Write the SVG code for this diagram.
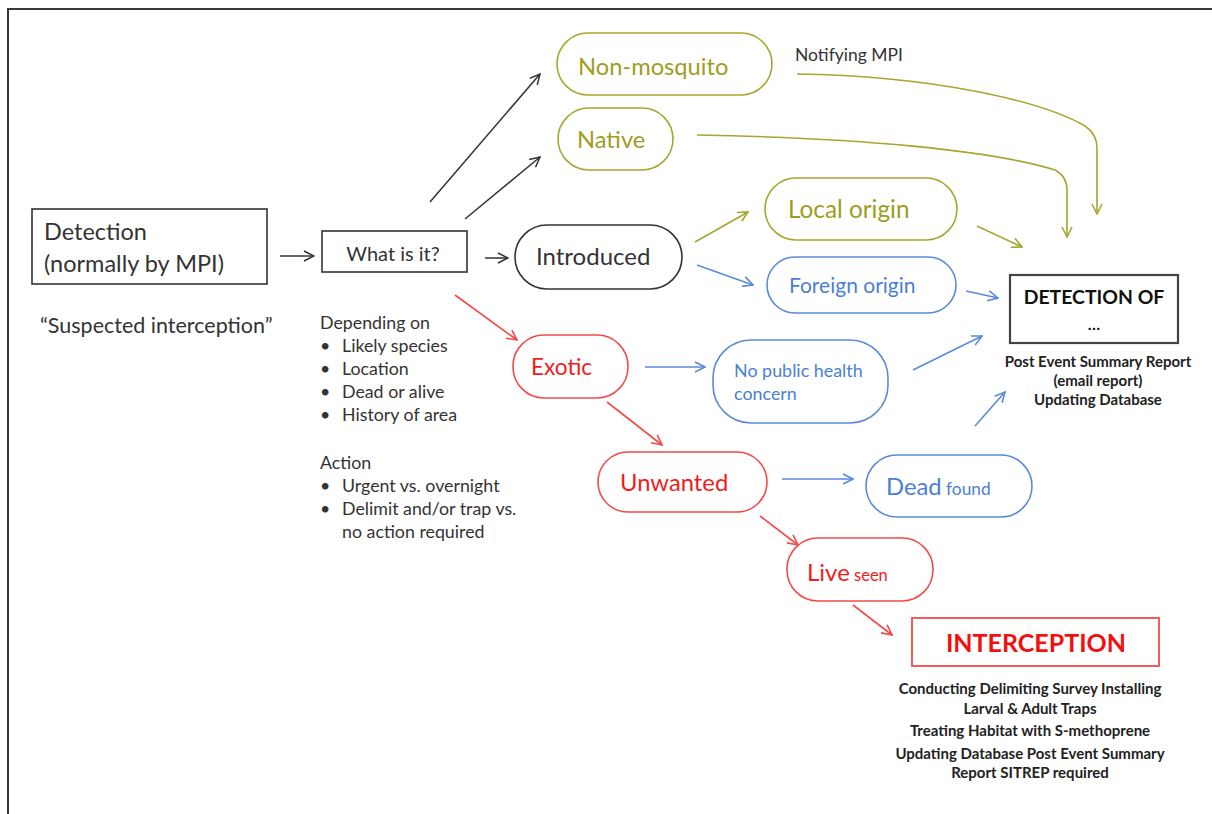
<svg xmlns="http://www.w3.org/2000/svg" width="1212" height="814" viewBox="0 0 1212 814">
  <style>
    text { font-family: Lato, "Open Sans", "Liberation Sans", sans-serif; }
    .olive { fill: #9d9d1f; }
    .blue { fill: #4a7fd4; }
    .red { fill: #f21c1c; }
    .dark { fill: #333333; }
    .b-olive { fill: #ffffff; stroke: #a6a630; stroke-width: 1.6; }
    .b-blue { fill: #ffffff; stroke: #5a8ad8; stroke-width: 1.6; }
    .b-red { fill: #ffffff; stroke: #f24a4a; stroke-width: 1.6; }
    .b-black { fill: #ffffff; stroke: #333333; stroke-width: 1.6; }
    .c-black { fill: none; stroke: #333333; stroke-width: 1.5; marker-end: url(#ah-black); }
    .c-olive { fill: none; stroke: #a6a630; stroke-width: 1.6; marker-end: url(#ah-olive); }
    .c-blue { fill: none; stroke: #5a8ad8; stroke-width: 1.6; marker-end: url(#ah-blue); }
    .c-red { fill: none; stroke: #f24a4a; stroke-width: 1.6; marker-end: url(#ah-red); }
    .note { font-size: 15px; font-weight: bold; fill: #222222; text-anchor: middle; }
    .list { font-size: 17.8px; fill: #333333; }
  </style>
  <defs>
    <marker id="ah-black" viewBox="0 0 12 12" refX="11" refY="6" markerWidth="12" markerHeight="12" markerUnits="userSpaceOnUse" orient="auto">
      <path d="M1,1 L11,6 L1,11" fill="none" stroke="#333333" stroke-width="1.5"/>
    </marker>
    <marker id="ah-olive" viewBox="0 0 12 12" refX="11" refY="6" markerWidth="12" markerHeight="12" markerUnits="userSpaceOnUse" orient="auto">
      <path d="M1,1 L11,6 L1,11" fill="none" stroke="#a6a630" stroke-width="1.6"/>
    </marker>
    <marker id="ah-blue" viewBox="0 0 12 12" refX="11" refY="6" markerWidth="12" markerHeight="12" markerUnits="userSpaceOnUse" orient="auto">
      <path d="M1,1 L11,6 L1,11" fill="none" stroke="#5a8ad8" stroke-width="1.6"/>
    </marker>
    <marker id="ah-red" viewBox="0 0 12 12" refX="11" refY="6" markerWidth="12" markerHeight="12" markerUnits="userSpaceOnUse" orient="auto">
      <path d="M1,1 L11,6 L1,11" fill="none" stroke="#f24a4a" stroke-width="1.6"/>
    </marker>
  </defs>

  <rect width="1212" height="814" fill="#ffffff"/>
  <!-- page frame (top and left edges) -->
  <path d="M8,814 L8,9 L1212,9" fill="none" stroke="#3a3a3a" stroke-width="2"/>

  <!-- connectors -->
  <g id="connectors">
    <path class="c-black" d="M280,256 L314,256"/>
    <path class="c-black" d="M430,202 L540,74"/>
    <path class="c-black" d="M465,219 L540,157"/>
    <path class="c-black" d="M485,258 L508,258"/>
    <path class="c-olive" d="M695,242 L748,212"/>
    <path class="c-blue" d="M697,265 L753,285"/>
    <path class="c-olive" d="M797,74 C930,76 1040,100 1085,126 Q1097,134 1097,148 L1097,214"/>
    <path class="c-olive" d="M697,135 C860,138 990,150 1055,170 Q1067,176 1067,190 L1067,237"/>
    <path class="c-olive" d="M977,226 L1022,247"/>
    <path class="c-blue" d="M966,291 L998,298"/>
    <path class="c-red" d="M455,295 L517,340"/>
    <path class="c-blue" d="M645,367 L705,367"/>
    <path class="c-blue" d="M913,370 L982,336"/>
    <path class="c-red" d="M607,402 L662,445"/>
    <path class="c-blue" d="M782,479 L853,479"/>
    <path class="c-blue" d="M975,426 L1005,392"/>
    <path class="c-red" d="M760,516 L798,545"/>
    <path class="c-red" d="M853,605 L892,635"/>
  </g>

  <g id="detection">
    <rect class="b-black" x="32" y="209" width="235" height="75"/>
    <text x="44" y="240" font-size="23.5" class="dark">Detection</text>
    <text x="44" y="272" font-size="23.5" class="dark">(normally by MPI)</text>
  </g>

  <g id="suspected">
    <text x="40" y="333" font-size="21.5" class="dark">“Suspected interception”</text>
  </g>

  <g id="what-is-it">
    <rect class="b-black" x="322" y="231" width="145" height="41"/>
    <text x="393" y="261" font-size="20" class="dark" text-anchor="middle">What is it?</text>
  </g>

  <g id="criteria">
    <text x="320" y="329" class="list">Depending on</text>
    <text x="320" y="352" class="list">•</text><text x="342" y="352" class="list">Likely species</text>
    <text x="320" y="375" class="list">•</text><text x="342" y="375" class="list">Location</text>
    <text x="320" y="398" class="list">•</text><text x="342" y="398" class="list">Dead or alive</text>
    <text x="320" y="421" class="list">•</text><text x="342" y="421" class="list">History of area</text>
    <text x="320" y="469" class="list">Action</text>
    <text x="320" y="492" class="list">•</text><text x="342" y="492" class="list">Urgent vs. overnight</text>
    <text x="320" y="515" class="list">•</text><text x="342" y="515" class="list">Delimit and/or trap vs.</text>
    <text x="342" y="538" class="list">no action required</text>
  </g>

  <g id="non-mosquito">
    <rect class="b-olive" x="557" y="33" width="215" height="62" rx="31"/>
    <text x="578" y="75" font-size="23.7" class="olive">Non-mosquito</text>
  </g>

  <g id="notifying">
    <text x="795" y="61" font-size="17.5" class="dark">Notifying MPI</text>
  </g>

  <g id="native">
    <rect class="b-olive" x="558" y="108" width="115" height="62" rx="31"/>
    <text x="577" y="148" font-size="23.7" class="olive">Native</text>
  </g>

  <g id="introduced">
    <rect class="b-black" x="515" y="225" width="167" height="64" rx="32"/>
    <text x="536" y="265" font-size="24" class="dark">Introduced</text>
  </g>

  <g id="local-origin">
    <rect class="b-olive" x="765" y="178" width="192" height="62" rx="31"/>
    <text x="788" y="218" font-size="24.3" class="olive">Local origin</text>
  </g>

  <g id="foreign-origin">
    <rect class="b-blue" x="767" y="257" width="189" height="56" rx="28"/>
    <text x="789" y="293" font-size="21" class="blue">Foreign origin</text>
  </g>

  <g id="detection-of">
    <rect x="1010" y="275" width="168" height="68" fill="#ffffff" stroke="#444444" stroke-width="2.2"/>
    <text x="1094" y="304" font-size="19.4" font-weight="bold" fill="#111111" text-anchor="middle">DETECTION OF</text>
    <text x="1094" y="330" font-size="16" font-weight="bold" fill="#111111" text-anchor="middle">…</text>
    <text x="1098" y="367" class="note">Post Event Summary Report</text>
    <text x="1098" y="386" class="note">(email report)</text>
    <text x="1098" y="405" class="note">Updating Database</text>
  </g>

  <g id="exotic">
    <rect class="b-red" x="513" y="335" width="115" height="63" rx="31"/>
    <text x="531" y="375" font-size="22.6" class="red">Exotic</text>
  </g>

  <g id="no-public-health">
    <rect class="b-blue" x="713" y="340" width="175" height="83" rx="38"/>
    <text x="734" y="377" font-size="17.9" class="blue">No public health</text>
    <text x="734" y="400" font-size="17.9" class="blue">concern</text>
  </g>

  <g id="unwanted">
    <rect class="b-red" x="598" y="452" width="169" height="60" rx="30"/>
    <text x="620" y="491" font-size="23.8" class="red">Unwanted</text>
  </g>

  <g id="dead-found">
    <rect class="b-blue" x="866" y="455" width="166" height="62" rx="31"/>
    <text x="886" y="495" class="blue"><tspan font-size="23.8">Dead</tspan><tspan font-size="17.3"> found</tspan></text>
  </g>

  <g id="live-seen">
    <rect class="b-red" x="787" y="538" width="146" height="63" rx="31"/>
    <text x="807" y="581" class="red"><tspan font-size="24">Live</tspan><tspan font-size="16.5"> seen</tspan></text>
  </g>

  <g id="interception">
    <rect x="912" y="618" width="247" height="48" fill="#ffffff" stroke="#f24a4a" stroke-width="1.8"/>
    <text x="1036" y="652" font-size="25" font-weight="bold" fill="#f20f0f" text-anchor="middle">INTERCEPTION</text>
    <text x="1030" y="694" class="note">Conducting Delimiting Survey Installing</text>
    <text x="1030" y="714" class="note">Larval &amp; Adult Traps</text>
    <text x="1030" y="736" class="note">Treating Habitat with S-methoprene</text>
    <text x="1030" y="759" class="note">Updating Database Post Event Summary</text>
    <text x="1030" y="778" class="note">Report SITREP required</text>
  </g>
</svg>
